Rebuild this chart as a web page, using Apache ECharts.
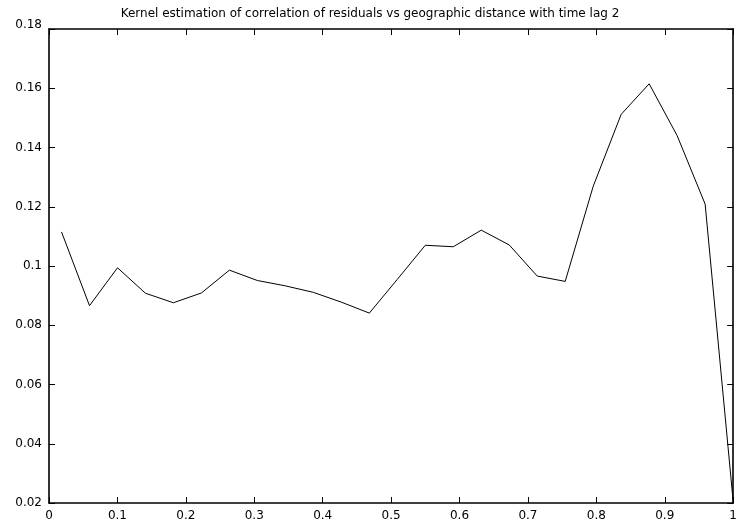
<!DOCTYPE html>
<html>
<head>
<meta charset="utf-8">
<script src="https://cdn.jsdelivr.net/npm/echarts@6/dist/echarts.min.js"></script>
<style>
  html, body { margin: 0; padding: 0; background: #fff; }
  #chart { width: 740px; height: 529px; }
</style>
</head>
<body>
<div id="chart"></div>
<script>
// Kernel estimate: geographic distance (x) vs residual correlation (y)
const distance = [
  0.0183, 0.0592, 0.1001, 0.1410, 0.1819, 0.2228, 0.2637, 0.3046, 0.3455,
  0.3864, 0.4273, 0.4682, 0.5091, 0.5500, 0.5909, 0.6318, 0.6727, 0.7136,
  0.7545, 0.7954, 0.8363, 0.8772, 0.9181, 0.9590, 1.0000
];
const correlation = [
  0.1115, 0.0866, 0.0994, 0.0908, 0.0876, 0.0909, 0.0986, 0.0951, 0.0933,
  0.0911, 0.0878, 0.0841, 0.0955, 0.1070, 0.1065, 0.1121, 0.1071, 0.0966,
  0.0948, 0.1269, 0.1512, 0.1615, 0.1440, 0.1209, 0.0205
];
const titleText = 'Kernel estimation of correlation of residuals vs geographic distance with time lag 2';

const font = 'DejaVu Sans, sans-serif';
const points = distance.map((d, i) => [d, correlation[i]]);

const lineStyle = { color: '#000', width: 1.6 };
const tick = { show: true, inside: true, length: 6, lineStyle: { color: '#000', width: 1 } };

const chart = echarts.init(document.getElementById('chart'), null, { renderer: 'canvas' });
chart.setOption({
  animation: false,
  backgroundColor: '#fff',
  title: {
    text: titleText,
    left: 'center',
    top: 3,
    textStyle: { fontFamily: font, fontSize: 12, fontWeight: 'normal', color: '#000' }
  },
  grid: { left: 49, right: 3, top: 29, bottom: 26, containLabel: false },
  xAxis: [
    {
      type: 'value', min: 0, max: 1, interval: 0.1, position: 'bottom',
      axisLine: { show: true, onZero: false, lineStyle },
      axisTick: tick,
      splitLine: { show: false },
      axisLabel: { fontFamily: font, fontSize: 12, color: '#000', margin: 7 }
    },
    {
      type: 'value', min: 0, max: 1, interval: 0.1, position: 'top',
      axisLine: { show: true, onZero: false, lineStyle },
      axisTick: tick,
      splitLine: { show: false },
      axisLabel: { show: false }
    }
  ],
  yAxis: [
    {
      type: 'value', min: 0.02, max: 0.18, interval: 0.02, position: 'left',
      axisLine: { show: true, onZero: false, lineStyle },
      axisTick: tick,
      splitLine: { show: false },
      axisLabel: {
        fontFamily: font, fontSize: 12, color: '#000', margin: 7,
        // the topmost label sits slightly above its tick
        formatter: v => (Math.abs(v - 0.18) < 1e-9 ? '{top|' + v + '}' : String(+v.toFixed(2))),
        rich: { top: { fontFamily: font, fontSize: 12, color: '#000', padding: [0, 0, 9, 0] } }
      }
    },
    {
      type: 'value', min: 0.02, max: 0.18, interval: 0.02, position: 'right',
      axisLine: { show: true, onZero: false, lineStyle },
      axisTick: tick,
      splitLine: { show: false },
      axisLabel: { show: false }
    }
  ],
  series: [{
    type: 'line',
    data: points,
    xAxisIndex: 0,
    yAxisIndex: 0,
    showSymbol: false,
    lineStyle: { color: '#000', width: 1 },
    silent: true
  }]
});
</script>
</body>
</html>
